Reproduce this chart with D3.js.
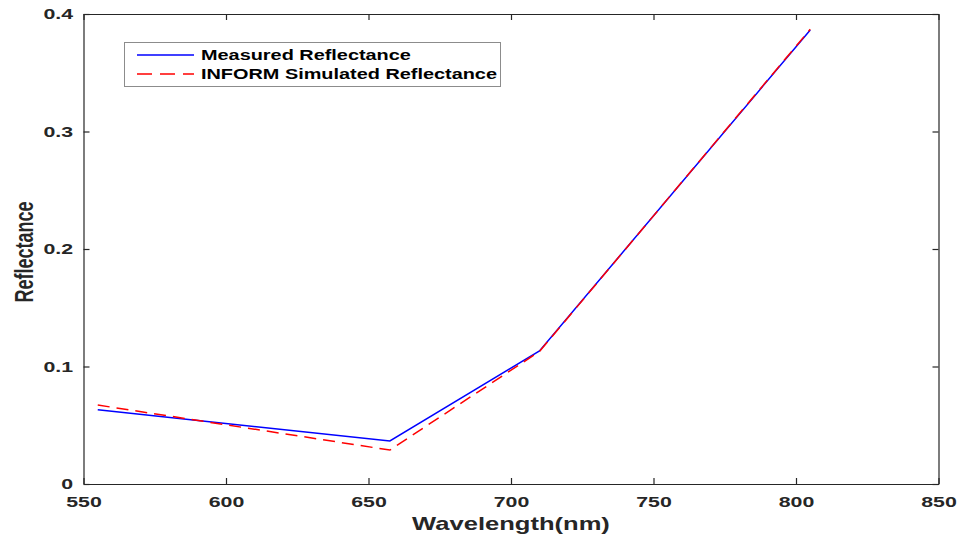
<!DOCTYPE html>
<html>
<head>
<meta charset="utf-8">
<script src="https://cdn.jsdelivr.net/npm/d3@7"></script>
<style>
  html, body { margin: 0; padding: 0; background: #fff; }
  svg { display: block; }
  .tick text { font-family: "Liberation Sans", Arial, sans-serif; font-weight: bold; font-size: 15px; fill: #262626; }
</style>
</head>
<body>
<svg id="chart" width="960" height="539"></svg>
<script>
// Band centre wavelengths (nm)
const wavelengths = [555, 657.5, 710, 805];
// Reflectance series
const measured = [0.0632, 0.0366, 0.1132, 0.3864];
const simulated = [0.0672, 0.0289, 0.1128, 0.3870];
const seriesNames = ["Measured Reflectance", "INFORM Simulated Reflectance"];
const xTicks = [550, 600, 650, 700, 750, 800, 850];
const yTicks = [0, 0.1, 0.2, 0.3, 0.4];

const svg = d3.select("#chart");
const plotL = 83.5, plotR = 938.5, plotT = 14, plotB = 484;
const axisColor = "#262626";
const wide = 1.42; // horizontal widening of the lettering

const x = d3.scaleLinear().domain([550, 850]).range([plotL, plotR]);
const y = d3.scaleLinear().domain([0, 0.4]).range([plotB, plotT]);

const fmtY = v => v === 0 ? "0" : d3.format(".1f")(v);

// Bottom axis (ticks pointing inward)
const gx = svg.append("g").attr("transform", `translate(0,${plotB})`)
  .call(d3.axisBottom(x).tickValues(xTicks).tickSizeInner(-6).tickSizeOuter(0).tickPadding(10));
gx.selectAll(".tick text").attr("dy", "0.88em").attr("transform", `scale(${wide},1)`);
// Left axis
const gy = svg.append("g").attr("transform", `translate(${plotL},0)`)
  .call(d3.axisLeft(y).tickValues(yTicks).tickFormat(fmtY).tickSizeInner(-6).tickSizeOuter(0).tickPadding(10));
gy.selectAll(".tick text").attr("x", -10.5 / wide).attr("transform", `scale(${wide},1)`);
// Top and right mirror axes
svg.append("g").attr("transform", `translate(0,${plotT})`)
  .call(d3.axisTop(x).tickValues(xTicks).tickSizeInner(-6).tickSizeOuter(0).tickFormat(""));
svg.append("g").attr("transform", `translate(${plotR},0)`)
  .call(d3.axisRight(y).tickValues(yTicks).tickSizeInner(-6).tickSizeOuter(0).tickFormat(""));
svg.selectAll(".domain, .tick line").attr("stroke", axisColor).attr("stroke-width", 1.2);

// Axis titles
const cx = (plotL + plotR) / 2;
svg.append("text")
  .attr("transform", `translate(${cx},530) scale(${wide},1)`)
  .attr("text-anchor", "middle")
  .style("font-family", '"Liberation Sans", Arial, sans-serif')
  .style("font-weight", "bold").style("font-size", "18px").attr("fill", axisColor)
  .text("Wavelength(nm)");
svg.append("text")
  .attr("transform", `translate(33,252) rotate(-90) scale(1,${wide})`)
  .attr("text-anchor", "middle")
  .style("font-family", '"Liberation Sans", Arial, sans-serif')
  .style("font-weight", "bold").style("font-size", "18px").attr("fill", axisColor)
  .text("Reflectance");

// Series lines
const line = d3.line().x((d, i) => x(wavelengths[i])).y(d => y(d));
svg.append("path").datum(measured)
  .attr("d", line).attr("fill", "none").attr("stroke", "#0000ff").attr("stroke-width", 1.5);
svg.append("path").datum(simulated)
  .attr("d", line).attr("fill", "none").attr("stroke", "#ff0000").attr("stroke-width", 1.5)
  .attr("stroke-dasharray", "12,7");

// Legend
const lg = svg.append("g");
lg.append("rect").attr("x", 124.5).attr("y", 42.5).attr("width", 376).attr("height", 44)
  .attr("fill", "#fff").attr("stroke", "#8c8c8c").attr("stroke-width", 1);
const styles = [
  { color: "#0000ff", dash: null },
  { color: "#ff0000", dash: "15,8" }
];
seriesNames.forEach((name, i) => {
  const yy = 55 + i * 19;
  lg.append("line").attr("x1", 137).attr("x2", 194).attr("y1", yy).attr("y2", yy)
    .attr("stroke", styles[i].color).attr("stroke-width", 1.5)
    .attr("stroke-dasharray", styles[i].dash);
  lg.append("text").attr("transform", `translate(201,${yy + 5}) scale(${wide},1)`)
    .style("font-family", '"Liberation Sans", Arial, sans-serif')
    .style("font-weight", "bold").style("font-size", "14px").attr("fill", "#000")
    .text(name);
});
</script>
</body>
</html>
